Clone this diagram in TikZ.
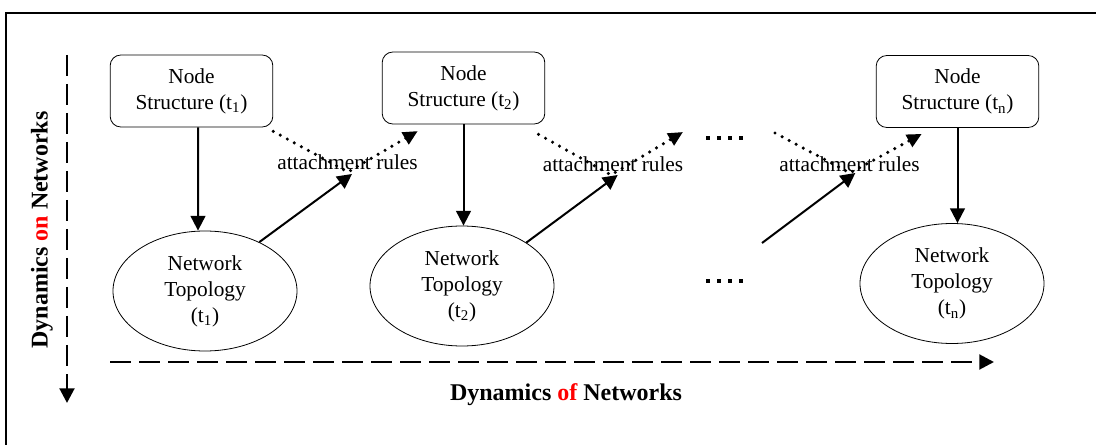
\documentclass[tikz,border=0pt]{standalone}
\usepackage{fontspec}
\setmainfont{Liberation Serif}
\usetikzlibrary{arrows.meta,shapes.geometric}
\tikzset{
  nodebox/.style={draw, rounded corners=8pt, line width=0.6pt, minimum width=122pt, minimum height=54pt, align=center, font=\fontsize{16pt}{19.5pt}\selectfont},
  topo/.style={draw, ellipse, line width=0.6pt, minimum width=138pt, minimum height=90pt, inner sep=0pt, align=center, font=\fontsize{16pt}{19.5pt}\selectfont},
  arr/.style={line width=1.5pt, -{Triangle[length=11pt,width=11pt]}},
  rulearr/.style={line width=2.6pt, line cap=round, dash pattern=on 0pt off 6pt, -{Triangle[length=11pt,width=10pt]}},
  axis/.style={line width=2.2pt, dash pattern=on 15.75pt off 6pt, -{Triangle[length=11pt,width=11pt]}},
  gap/.style={line width=3pt, dash pattern=on 3pt off 5.25pt},
  rulelabel/.style={font=\fontsize{16pt}{19.5pt}\selectfont, inner sep=0pt},
  axislabel/.style={font=\fontsize{18pt}{21pt}\selectfont\bfseries, inner sep=0pt}
}
\begin{document}
\begin{tikzpicture}[x=0.75pt, y=-0.75pt]
    \useasboundingbox (0,0) rectangle (1096,445);
    \clip (0,0) rectangle (1096,445);
    % frame
    \draw[line width=1pt] (6,13) rectangle (1120,470);
    % node structures
    \node[nodebox] (ns1) at (191.5,91) {Node\\Structure (t\textsubscript{1})};
    \node[nodebox] (ns2) at (463.5,88) {Node\\Structure (t\textsubscript{2})};
    \node[nodebox] (nsn) at (957.5,91.5) {Node\\Structure (t\textsubscript{n})};
    % network topologies
    \node[topo] (nt1) at (205,291) {Network\\Topology\\(t\textsubscript{1})};
    \node[topo] (nt2) at (462,286) {Network\\Topology\\(t\textsubscript{2})};
    \node[topo] (ntn) at (952,283.5) {Network\\Topology\\(t\textsubscript{n})};
    % attachment rules
    \node[rulelabel] (ar1) at (347.5,162) {attachment rules};
    \node[rulelabel] (ar2) at (613,164) {attachment rules};
    \node[rulelabel] (arn) at (849.5,164) {attachment rules};
    \coordinate (v1) at (348,172);
    \coordinate (v2) at (611,175);
    \coordinate (vn) at (850,173);
    \coordinate (e2) at (683,132);
    \coordinate (sn) at (775,133);
    \coordinate (fn) at (762,243);
    % structure to topology
    \draw[arr] ([xshift=4.9pt]ns1.south) -- ([xshift=-5.25pt]nt1.north);
    \draw[arr] (ns2.south) -- (ns2.south |- nt2.north);
    \draw[arr] (nsn.south) -- (nsn.south |- ntn.north);
    % topology to next step
    \draw[arr] (nt1.42) -- ([shift={(3pt,-1.5pt)}]v1);
    \draw[arr] (nt2.34) -- ([shift={(5pt,0pt)}]v2);
    \draw[arr] (fn) -- ([shift={(4pt,0pt)}]vn);
    % dotted rules
    \draw[rulearr] ([yshift=-3pt]ns1.south east) -- (v1) -- ([shift={(27pt,-5pt)}]ns2.south west);
    \draw[rulearr] ([shift={(-5pt,-7.5pt)}]ns2.south east) -- (v2) -- (e2);
    \draw[rulearr] (sn) -- (vn) -- ([shift={(34.5pt,-4.5pt)}]nsn.south west);
    % gaps
    \draw[gap] (706,138) -- (745,138);
    \draw[gap] (706,281) -- (745,281);
    % axes
    \coordinate (vs) at (67,55);
    \coordinate (ve) at (67,403);
    \coordinate (hs) at (110,362);
    \coordinate (he) at (994,362);
    \draw[axis] (vs) -- (ve);
    \draw[axis] (hs) -- (he);
    \node[axislabel, rotate=90] (lon) at (42,230) {Dynamics \textcolor{red}{on} Networks};
    \node[axislabel] (lof) at (566,395) {Dynamics \textcolor{red}{of} Networks};
\end{tikzpicture}
\end{document}
